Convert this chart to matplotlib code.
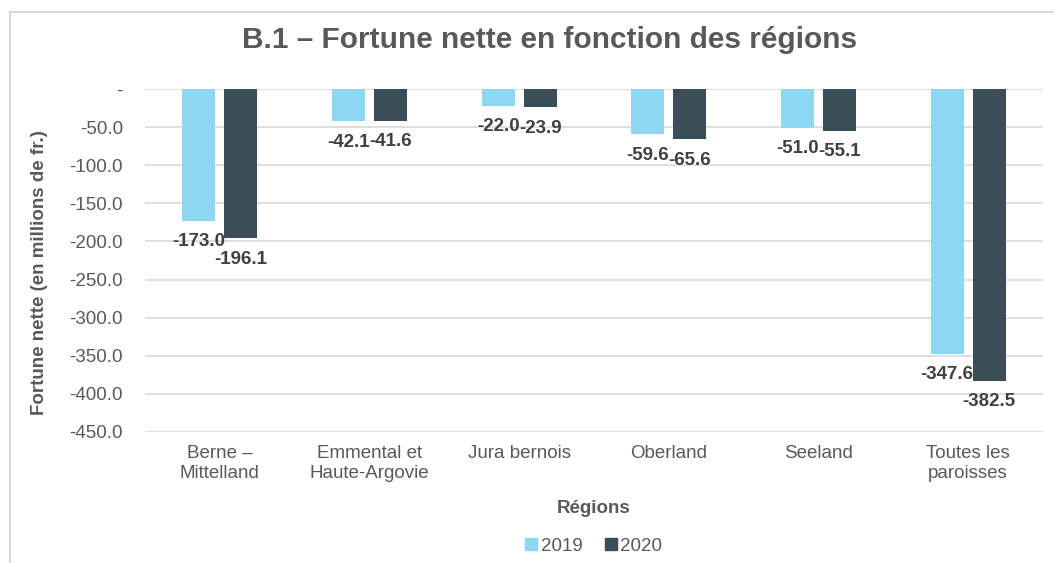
import numpy as np
import matplotlib.pyplot as plt
from matplotlib.lines import Line2D
from matplotlib.ticker import FuncFormatter

plt.rcParams['font.family'] = ['Liberation Sans', 'DejaVu Sans']

regions = ['Berne –\nMittelland', 'Emmental et\nHaute-Argovie', 'Jura bernois',
           'Oberland', 'Seeland', 'Toutes les\nparoisses']
v2019 = [-173.0, -42.1, -22.0, -59.6, -51.0, -347.6]
v2020 = [-196.1, -41.6, -23.9, -65.6, -55.1, -382.5]

c2019 = '#8dd8f0'
c2020 = '#3b4e58'
gray = '#595959'

fig = plt.figure(figsize=(10.54, 5.63), dpi=100)
ax = fig.add_axes([145/1054, 1 - 432/563, 898/1054, 343/563])

ind = np.arange(len(regions))
width = 0.22
off = 0.14
b1 = ax.bar(ind - off, v2019, width, color=c2019, label='2019', zorder=2)
b2 = ax.bar(ind + off, v2020, width, color=c2020, label='2020', zorder=2)

for bars, vals in ((b1, v2019), (b2, v2020)):
    for rect, v in zip(bars, vals):
        ax.annotate('{:.1f}'.format(v), (rect.get_x() + rect.get_width()/2, v),
                    xytext=(0, -9), textcoords='offset points',
                    ha='center', va='top', fontsize=13.5, fontweight='bold', color='#404040')

ax.set_xlim(-0.5, len(regions) - 0.5)
ax.set_ylim(-450, 0)
ax.set_yticks(np.arange(-450, 1, 50))
ax.yaxis.set_major_formatter(FuncFormatter(lambda y, p: '-' if y == 0 else '{:.1f}'.format(y)))
ax.set_xticks(ind)
ax.set_xticklabels(regions, linespacing=1.3)
ax.tick_params(axis='both', length=0, labelsize=13.5, labelcolor=gray)
ax.tick_params(axis='y', pad=16)
ax.tick_params(axis='x', pad=9)
ax.grid(axis='y', color='#d9d9d9', linewidth=1.2, zorder=0)
for s in ax.spines.values():
    s.set_visible(False)

ax.set_ylabel('Fortune nette (en millions de fr.)', fontsize=13.5, fontweight='bold',
              color=gray, va='center')
ax.yaxis.set_label_coords(-0.117, 0.465)
ax.set_xlabel('Régions', fontsize=13.5, fontweight='bold', color=gray, labelpad=13)

fig.text(550/1054, 1 - 40/563, 'B.1 – Fortune nette en fonction des régions',
         ha='center', va='center', fontsize=21.5, fontweight='bold', color=gray)

handles = [Line2D([], [], marker='s', linestyle='', markersize=9, color=c2019),
           Line2D([], [], marker='s', linestyle='', markersize=9, color=c2020)]
fig.legend(handles, ['2019', '2020'], loc='center', bbox_to_anchor=(592/1054, 1 - 546/563),
           ncol=2, frameon=False, fontsize=13.5, labelcolor=gray,
           handletextpad=0.0, columnspacing=1.0, handlelength=1.0)

# chart border
fig.add_artist(Line2D([10/1054, 10/1054], [0, 1 - 12/563], color='#d0d0d0', lw=1.2))
fig.add_artist(Line2D([10/1054, 1], [1 - 12/563, 1 - 12/563], color='#d0d0d0', lw=1.2))

fig.savefig('out.png', dpi=100)
